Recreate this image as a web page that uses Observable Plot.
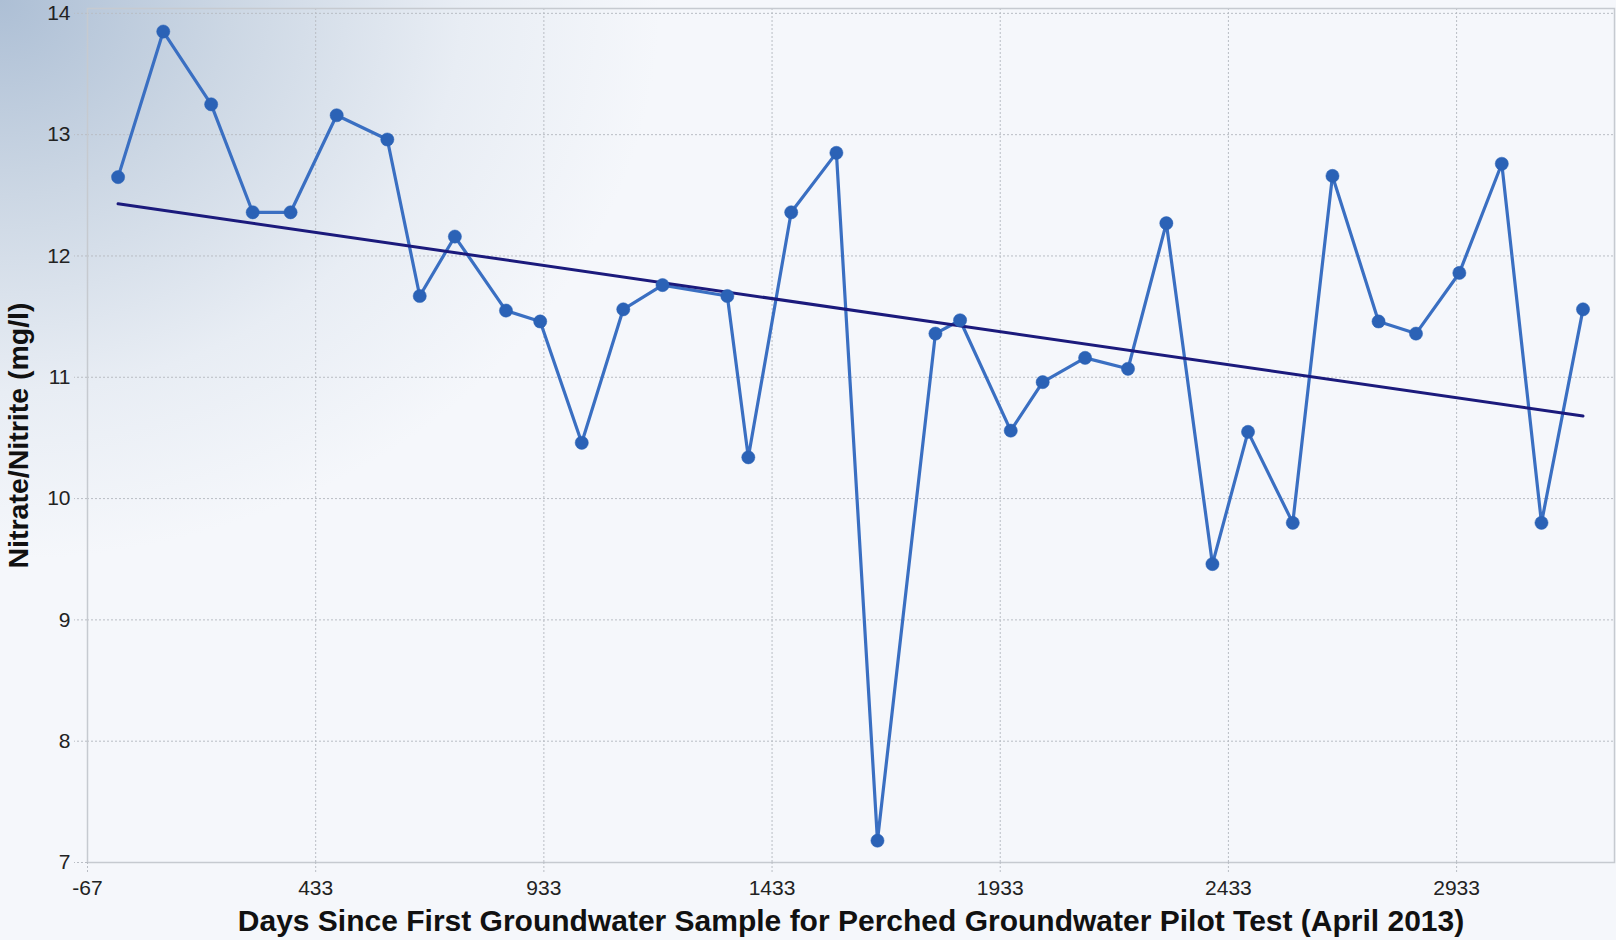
<!DOCTYPE html>
<html><head><meta charset="utf-8">
<script src="https://cdn.jsdelivr.net/npm/d3@7"></script>
<script src="https://cdn.jsdelivr.net/npm/@observablehq/plot@0.6"></script>
<style>
html,body{margin:0;padding:0;width:1616px;height:940px;overflow:hidden;}
body{background: radial-gradient(ellipse 660px 560px at 0 0, #adbfd5 0%, #ccd7e4 35%, #e8edf4 70%, #f5f7fb 100%), #f5f7fb;}
#chart svg{display:block;}
g[aria-label="x-axis label"] text {font-weight:bold;font-size:30px;fill:#111;}
g[aria-label="y-axis label"] text {font-weight:bold;font-size:28.5px;fill:#111;}
</style></head><body><div id="chart"></div>
<script>
// Days since first sample
const days = [0, 99, 204, 295, 378, 479, 590, 661, 738, 850, 925, 1016, 1107, 1193, 1335, 1381, 1475, 1574, 1664, 1791, 1845, 1956, 2026, 2119, 2213, 2297, 2398, 2476, 2574, 2661, 2762, 2844, 2939, 3032, 3119, 3210];
// Nitrate/Nitrite (mg/l)
const nitrate = [12.65, 13.85, 13.25, 12.36, 12.36, 13.16, 12.96, 11.67, 12.16, 11.55, 11.46, 10.46, 11.56, 11.76, 11.67, 10.34, 12.36, 12.85, 7.18, 11.36, 11.47, 10.56, 10.96, 11.16, 11.07, 12.27, 9.46, 10.55, 9.80, 12.66, 11.46, 11.36, 11.86, 12.76, 9.80, 11.56];
// Trend line end points
const trendDays = [0, 3210];
const trendValues = [12.43, 10.68];
// Axis ticks
const xTicks = [-67, 433, 933, 1433, 1933, 2433, 2933];
const yTicks = [7, 8, 9, 10, 11, 12, 13, 14];
const xLabel = "Days Since First Groundwater Sample for Perched Groundwater Pilot Test (April 2013)";
const yLabel = "Nitrate/Nitrite (mg/l)";

const samples = days.map((d, i) => ({day: d, value: nitrate[i]}));
const trend = trendDays.map((d, i) => ({day: d, value: trendValues[i]}));

const gridStyle = {stroke: "#b9bdc4", strokeOpacity: 1, strokeDasharray: "2,2", strokeWidth: 1};

const chart = Plot.plot({
  width: 1616, height: 940,
  marginLeft: 87, marginRight: 2, marginTop: 8, marginBottom: 78,
  style: {background: "transparent", fontFamily: "'Liberation Sans', Arial, sans-serif", fontSize: "21px", color: "#222"},
  x: {domain: [-67, 3279]},
  y: {domain: [7, 14.04]},
  marks: [
    Plot.gridX(xTicks, gridStyle),
    Plot.gridY(yTicks, gridStyle),
    Plot.frame({stroke: "#c6cad0", strokeWidth: 1.5}),
    Plot.axisX(xTicks, {tickSize: 12, tickPadding: 6, ...gridStyle, fill: "#222", tickFormat: d => String(d),
      label: xLabel, labelAnchor: "center", labelOffset: 68, labelArrow: false}),
    Plot.axisY(yTicks, {tickSize: 13, tickPadding: 4, ...gridStyle, fill: "#222", tickFormat: d => String(d),
      label: yLabel, labelAnchor: "center", labelOffset: 80, labelArrow: false}),
    Plot.line(samples, {x: "day", y: "value", stroke: "#3a6fc2", strokeWidth: 3.2}),
    Plot.line(trend, {x: "day", y: "value", stroke: "#1b1a7c", strokeWidth: 3}),
    Plot.dot(samples, {x: "day", y: "value", r: 6.6, fill: "#2b62b6", stroke: "#2b62b6", strokeWidth: 0.5})
  ]
});
document.getElementById("chart").appendChild(chart);
</script>
</body></html>
